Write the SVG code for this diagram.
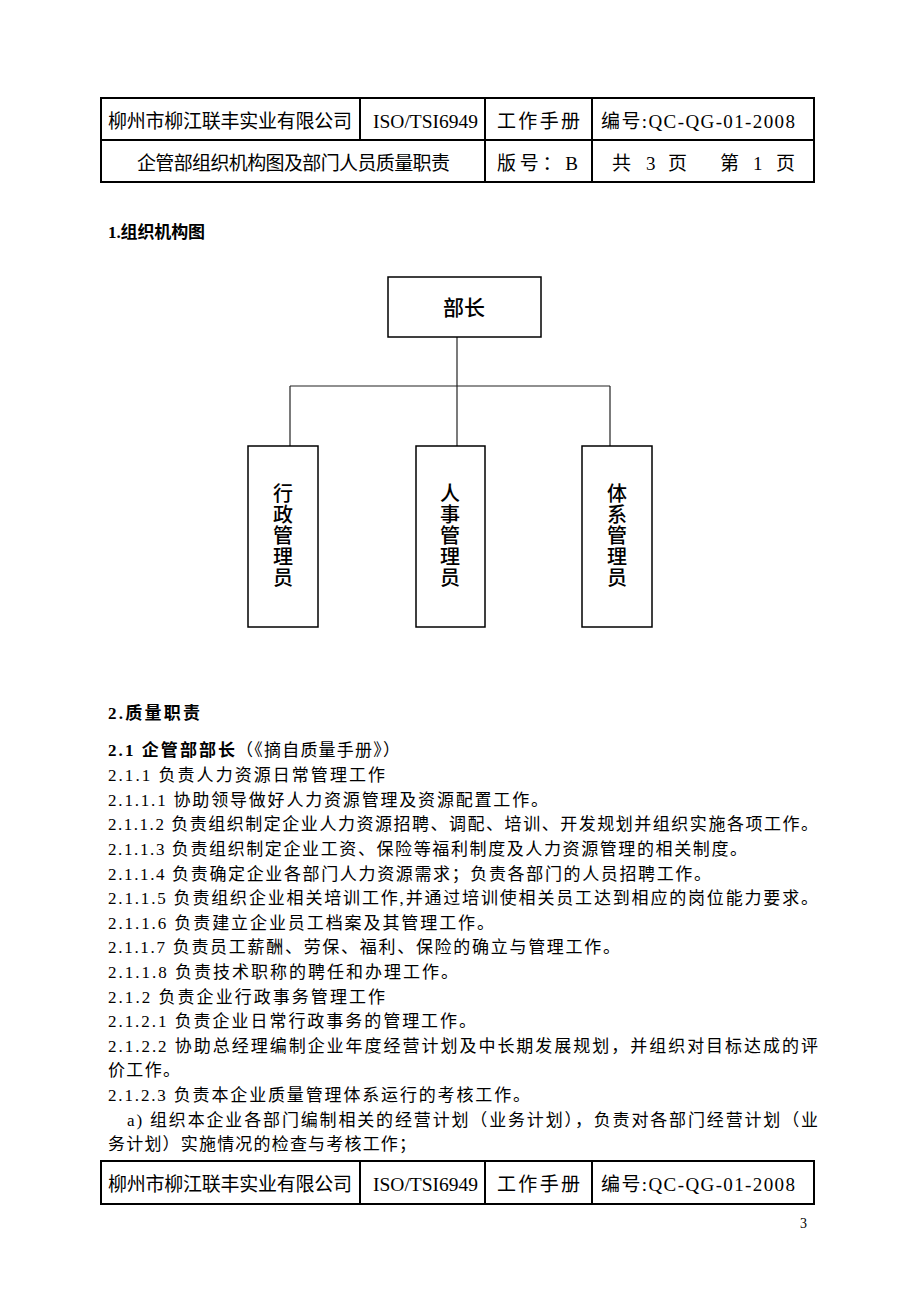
<svg xmlns="http://www.w3.org/2000/svg" width="920" height="1302" viewBox="0 0 920 1302">
<style>
.bg{fill:#ffffff}
.tb{fill:none;stroke:#000;stroke-width:2}
.tl{stroke:#000;stroke-width:2}
.hd{font-family:"Liberation Serif","Noto Sans CJK SC",serif;font-size:19px;fill:#000}
.iso{font-family:"Liberation Serif",serif;font-size:18px;fill:#000}
.box{fill:#fff;stroke:#000;stroke-width:1.5}
.con{fill:none;stroke:#222;stroke-width:1.2}
.nt{font-family:"Noto Sans CJK SC",sans-serif;font-size:21px;font-weight:500;fill:#000;text-anchor:middle}
.vt{font-family:"Noto Sans CJK SC",sans-serif;font-size:20px;font-weight:500;fill:#000;writing-mode:vertical-rl;letter-spacing:1.2px}
.sec{font-family:"Liberation Serif","Noto Sans CJK SC",serif;font-size:17px;font-weight:bold;fill:#000}
.bd{font-family:"Liberation Serif","Noto Sans CJK SC",serif;font-size:17px;fill:#000}
.pg{font-family:"Liberation Serif",serif;font-size:14px;fill:#000}
</style>
<rect class="bg" x="0" y="0" width="920" height="1302"/>

<g id="header">
<rect class="tb" x="101" y="98" width="713" height="84"/>
<line class="tl" x1="101" y1="140" x2="814" y2="140"/>
<line class="tl" x1="360" y1="98" x2="360" y2="140"/>
<line class="tl" x1="485" y1="98" x2="485" y2="182"/>
<line class="tl" x1="592" y1="98" x2="592" y2="182"/>
<text class="hd" x="108" y="128" textLength="244" lengthAdjust="spacing">柳州市柳江联丰实业有限公司</text>
<text class="iso" x="373" y="128" textLength="105" lengthAdjust="spacingAndGlyphs">ISO/TSI6949</text>
<text class="hd" x="497" y="128" font-size="20" textLength="83" lengthAdjust="spacing">工作手册</text>
<text class="hd" x="601" y="128" textLength="194" lengthAdjust="spacing">编号:QC-QG-01-2008</text>
<text class="hd" x="137" y="170" textLength="313" lengthAdjust="spacing">企管部组织机构图及部门人员质量职责</text>
<text class="hd" x="497" y="170" font-size="20" textLength="81" lengthAdjust="spacing">版号：B</text>
<text class="hd" x="612" y="170">共</text>
<text class="hd" x="646" y="170">3</text>
<text class="hd" x="668" y="170">页</text>
<text class="hd" x="720" y="170">第</text>
<text class="hd" x="753" y="170">1</text>
<text class="hd" x="776" y="170">页</text>
</g>

<g id="title1">
<text class="sec" x="108" y="238" textLength="97" lengthAdjust="spacing">1.组织机构图</text>
</g>

<g id="connectors">
<line class="con" x1="457" y1="337" x2="457" y2="446"/>
<line class="con" x1="290" y1="386" x2="610" y2="386"/>
<line class="con" x1="290" y1="386" x2="290" y2="446"/>
<line class="con" x1="610" y1="386" x2="610" y2="446"/>
</g>

<g id="node-buzhang">
<rect class="box" x="388" y="277" width="153" height="60"/>
<text class="nt" x="464" y="315">部长</text>
</g>

<g id="node-xingzheng">
<rect class="box" x="248" y="446" width="70" height="181"/>
<text class="vt" x="283" y="483">行政管理员</text>
</g>

<g id="node-renshi">
<rect class="box" x="416" y="446" width="69" height="181"/>
<text class="vt" x="450" y="483">人事管理员</text>
</g>

<g id="node-tixi">
<rect class="box" x="582" y="446" width="70" height="181"/>
<text class="vt" x="617" y="483">体系管理员</text>
</g>

<g id="body">
<text class="sec" x="108" y="719" textLength="92" lengthAdjust="spacing">2.质量职责</text>
<text class="sec" x="108" y="756" textLength="127" lengthAdjust="spacing">2.1 企管部部长</text>
<text class="bd" x="236" y="756" textLength="164" lengthAdjust="spacing">（《摘自质量手册》）</text>
<text class="bd" x="108" y="781" textLength="277" lengthAdjust="spacing">2.1.1 负责人力资源日常管理工作</text>
<text class="bd" x="108" y="806" textLength="440" lengthAdjust="spacing">2.1.1.1 协助领导做好人力资源管理及资源配置工作。</text>
<text class="bd" x="108" y="830" textLength="710" lengthAdjust="spacing">2.1.1.2 负责组织制定企业人力资源招聘、调配、培训、开发规划并组织实施各项工作。</text>
<text class="bd" x="108" y="855" textLength="639" lengthAdjust="spacing">2.1.1.3 负责组织制定企业工资、保险等福利制度及人力资源管理的相关制度。</text>
<text class="bd" x="108" y="880" textLength="603" lengthAdjust="spacing">2.1.1.4 负责确定企业各部门人力资源需求；负责各部门的人员招聘工作。</text>
<text class="bd" x="108" y="904" textLength="710" lengthAdjust="spacing">2.1.1.5 负责组织企业相关培训工作,并通过培训使相关员工达到相应的岗位能力要求。</text>
<text class="bd" x="108" y="929" textLength="386" lengthAdjust="spacing">2.1.1.6 负责建立企业员工档案及其管理工作。</text>
<text class="bd" x="108" y="953" textLength="512" lengthAdjust="spacing">2.1.1.7 负责员工薪酬、劳保、福利、保险的确立与管理工作。</text>
<text class="bd" x="108" y="978" textLength="350" lengthAdjust="spacing">2.1.1.8 负责技术职称的聘任和办理工作。</text>
<text class="bd" x="108" y="1003" textLength="277" lengthAdjust="spacing">2.1.2 负责企业行政事务管理工作</text>
<text class="bd" x="108" y="1027" textLength="368" lengthAdjust="spacing">2.1.2.1 负责企业日常行政事务的管理工作。</text>
<text class="bd" x="108" y="1052" textLength="710" lengthAdjust="spacing">2.1.2.2 协助总经理编制企业年度经营计划及中长期发展规划，并组织对目标达成的评</text>
<text class="bd" x="108" y="1076" textLength="72" lengthAdjust="spacing">价工作。</text>
<text class="bd" x="108" y="1101" textLength="422" lengthAdjust="spacing">2.1.2.3 负责本企业质量管理体系运行的考核工作。</text>
<text class="bd" x="127" y="1126" textLength="691" lengthAdjust="spacing">a) 组织本企业各部门编制相关的经营计划（业务计划），负责对各部门经营计划（业</text>
<text class="bd" x="108" y="1150" textLength="308" lengthAdjust="spacing">务计划）实施情况的检查与考核工作；</text>
</g>

<g id="footer">
<rect class="tb" x="101" y="1161" width="713" height="43"/>
<line class="tl" x1="360" y1="1161" x2="360" y2="1204"/>
<line class="tl" x1="485" y1="1161" x2="485" y2="1204"/>
<line class="tl" x1="592" y1="1161" x2="592" y2="1204"/>
<text class="hd" x="108" y="1191" textLength="244" lengthAdjust="spacing">柳州市柳江联丰实业有限公司</text>
<text class="iso" x="373" y="1191" textLength="105" lengthAdjust="spacingAndGlyphs">ISO/TSI6949</text>
<text class="hd" x="497" y="1191" font-size="20" textLength="83" lengthAdjust="spacing">工作手册</text>
<text class="hd" x="601" y="1191" textLength="194" lengthAdjust="spacing">编号:QC-QG-01-2008</text>
<text class="pg" x="800" y="1228">3</text>
</g>
</svg>
